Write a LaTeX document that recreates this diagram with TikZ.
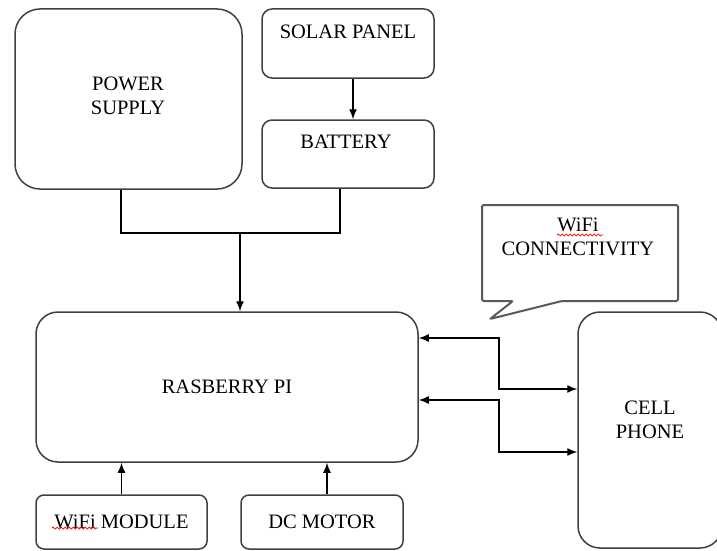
\documentclass[tikz,border=0pt]{standalone}
\usepackage{fontspec}
\setmainfont{Liberation Serif}
\usetikzlibrary{arrows.meta}
\usetikzlibrary{decorations.pathmorphing}

\begin{document}
\begin{tikzpicture}[x=1pt,y=-1pt]
	\tikzset{txt/.style={font=\fontsize{20.5}{24}\selectfont, align=center},
		blk/.style={draw=black!75, line width=1.5pt, fill=white},
		wire/.style={line width=1.4pt},
		arr/.style={wire, -{Latex[length=10pt,width=8pt]}},
		biarr/.style={wire, {Latex[length=10pt,width=8pt]}-{Latex[length=10pt,width=8pt]}},
		bubble/.style={draw=black!65, line width=2pt, rounded corners=2pt, fill=white},
		spell/.style={red, line width=0.7pt, decorate, decoration={snake, amplitude=1pt, segment length=4pt}}};
	\useasboundingbox (0,0) rectangle (717,551);
	\clip (0,0) rectangle (717,551);
	% power side
	\node[blk, rounded corners=25pt, minimum width=227pt, minimum height=180pt] (psu) at (128.5,99) {};
	\node[txt] (psutxt) at (128,95.5) {POWER\\SUPPLY};
	\node[blk, rounded corners=10pt, minimum width=172pt, minimum height=69pt] (solar) at (348,43.5) {};
	\node[txt] (solartxt) at (348,32) {SOLAR PANEL};
	\node[blk, rounded corners=10pt, minimum width=172pt, minimum height=68pt] (battery) at (348,154) {};
	\node[txt] (batterytxt) at (346,142) {BATTERY};
	% controller
	\node[blk, txt, rounded corners=22pt, minimum width=382pt, minimum height=150pt] (rpi) at (227,387) {RASBERRY PI};
	\node[blk, txt, rounded corners=8pt, minimum width=171pt, minimum height=54pt] (wifimod) at (121.5,522) {WiFi MODULE};
	\node[blk, txt, rounded corners=8pt, minimum width=162pt, minimum height=54pt] (motor) at (322,522) {DC MOTOR};
	% phone
	\node[blk, rounded corners=22pt, minimum width=144pt, minimum height=236pt] (cell) at (650,430) {};
	\node[txt] (celltxt) at (650,419.5) {CELL\\PHONE};
	\draw[bubble] (482,205) -- (678,205) -- (678,301) -- (562,301) -- (490,319) -- (513,301) -- (482,301) -- cycle;
	\node[txt] (bubbletxt) at (578,236.5) {WiFi\\CONNECTIVITY};
	\draw[spell] (557,235) -- (603,235);
	\draw[spell] (52,528) -- (98,528);
	% connectors
	\draw[arr] ([xshift=5pt]solar.south) -- ([xshift=5pt]battery.north);
	\coordinate (join) at (240,233);
	\draw[wire] ([xshift=-7.5pt]psu.south) |- (join) -| ([xshift=-8pt]battery.south);
	\draw[arr] (join) -- (join |- rpi.north);
	\draw[arr] (wifimod.north) -- (wifimod.north |- rpi.south);
	\draw[arr] ([xshift=5pt]motor.north) -- ([xshift=5pt]motor.north |- rpi.south);
	\draw[biarr] (rpi.east |- 0,338) -| (499,389) -- (cell.west |- 0,389);
	\draw[biarr] (rpi.east |- 0,400) -| (499,452) -- (cell.west |- 0,452);
\end{tikzpicture}
\end{document}
